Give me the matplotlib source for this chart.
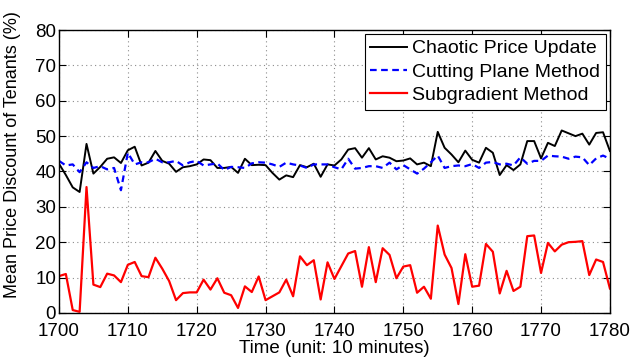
import matplotlib
matplotlib.use("Agg")

import matplotlib.pyplot as plt
import numpy as np

plt.rcParams["font.family"] = ["Liberation Sans", "DejaVu Sans"]

time_steps = np.arange(1700, 1781)

chaotic = [
    42.2, 39.0, 35.5, 34.2, 47.8, 39.4, 41.3, 43.6, 44.0, 42.4,
    46.0, 47.0, 41.7, 42.5, 45.8, 43.0, 42.2, 39.9, 41.2, 41.5,
    42.0, 43.4, 43.2, 41.0, 41.0, 41.3, 39.6, 43.6, 41.8, 41.9,
    41.8, 39.6, 37.7, 38.9, 38.4, 41.8, 41.2, 42.2, 38.5, 42.0,
    41.7, 43.4, 46.2, 46.6, 43.9, 46.6, 43.4, 44.3, 43.9, 42.9,
    43.1, 43.7, 42.0, 42.5, 41.5, 51.2, 46.7, 44.8, 42.6, 45.9,
    43.3, 42.5, 46.7, 45.3, 39.0, 41.8, 40.4, 42.0, 48.6, 48.6,
    43.7, 48.1, 47.2, 51.6, 50.8, 50.0, 50.7, 47.6, 50.9, 51.1,
    45.8,
]

cutting_plane = [
    43.0, 41.7, 42.0, 39.8, 42.6, 41.0, 41.5, 40.6, 41.0, 34.7,
    45.3, 42.0, 42.6, 42.6, 43.6, 42.6, 42.6, 43.0, 41.7, 42.6,
    43.0, 41.7, 42.0, 42.3, 40.4, 41.3, 41.2, 41.0, 42.3, 42.6,
    42.5, 42.0, 41.3, 42.5, 42.0, 41.7, 41.0, 42.0, 42.0, 42.0,
    41.2, 40.6, 43.6, 40.8, 41.0, 41.5, 41.5, 41.0, 42.5, 40.6,
    41.8, 40.6, 39.4, 40.8, 42.6, 44.5, 41.0, 41.5, 41.7, 41.5,
    42.1, 41.0, 42.5, 42.7, 42.0, 42.2, 41.7, 44.0, 42.2, 43.0,
    43.0, 44.5, 44.3, 44.2, 43.6, 44.2, 44.0, 41.8, 43.7, 44.5,
    43.6,
]

subgradient = [
    10.4, 11.0, 0.8, 0.3, 35.6, 8.0, 7.3, 11.1, 10.6, 8.7,
    13.6, 14.4, 10.4, 10.1, 15.6, 12.5, 9.0, 3.6, 5.6, 5.8,
    5.8, 9.4, 6.6, 9.8, 5.7, 5.0, 1.4, 7.5, 5.9, 10.3,
    3.6, 4.7, 5.8, 9.4, 4.7, 16.0, 13.5, 14.9, 3.8, 14.3,
    9.6, 13.2, 16.8, 17.5, 7.4, 18.6, 8.7, 18.3, 16.4, 9.8,
    13.1, 13.5, 5.7, 7.4, 4.0, 24.7, 16.5, 12.7, 2.5, 16.6,
    7.4, 7.7, 19.5, 17.3, 5.5, 11.9, 6.2, 7.4, 21.7, 21.9,
    11.3, 19.8, 17.4, 19.3, 20.0, 20.1, 20.3, 10.7, 15.1, 14.4,
    6.9,
]

x_ticks = np.arange(1700, 1781, 10)
y_ticks = np.arange(0, 81, 10)

fig = plt.figure(figsize=(6.34, 3.58), dpi=100)
ax = fig.add_axes([0.093, 0.126, 0.869, 0.790])

ax.plot(time_steps, chaotic, color="black", linewidth=1.4, label="Chaotic Price Update")
ax.plot(time_steps, cutting_plane, color="#0000ff", linewidth=1.6,
        linestyle=(0, (3.0, 2.0)), label="Cutting Plane Method")
ax.plot(time_steps, subgradient, color="#ff0000", linewidth=1.6, label="Subgradient Method")

ax.set_xlim(1700, 1780)
ax.set_ylim(0, 80)
ax.set_xticks(x_ticks)
ax.set_yticks(y_ticks)
ax.tick_params(direction="in", top=True, right=True, length=5, width=0.8,
               labelsize=13.5)
ax.tick_params(axis="x", pad=7)
ax.tick_params(axis="y", pad=2)
ax.grid(True, linestyle=(0, (1, 3)), color="0.55", linewidth=0.8)
for spine in ax.spines.values():
    spine.set_linewidth(1.0)

ax.set_xlabel("Time (unit: 10 minutes)", fontsize=13.5, labelpad=0)
ax.set_ylabel("Mean Price Discount of Tenants (%)", fontsize=13)
ax.yaxis.set_label_coords(-0.068, 0.56)

leg = ax.legend(loc="upper right", fontsize=14, fancybox=False, framealpha=1,
                edgecolor="black", borderaxespad=0.2, labelspacing=0.3,
                handlelength=1.9, handletextpad=0.25, borderpad=0.3)
leg.get_frame().set_linewidth(0.8)

fig.savefig("out.png", dpi=100)
plt.close(fig)
